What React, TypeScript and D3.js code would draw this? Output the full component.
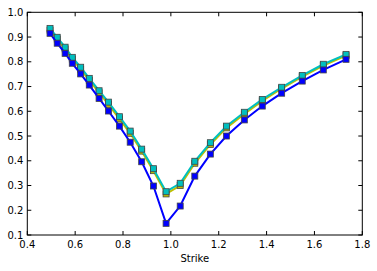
import * as d3 from "d3";

// страйки
const strikes = [0.495, 0.525, 0.558, 0.588, 0.623, 0.659, 0.7, 0.739, 0.785, 0.83, 0.878, 0.927, 0.98, 1.039, 1.1, 1.165, 1.232, 1.307, 1.382, 1.463, 1.549, 1.637, 1.732];

// три серии волатильности
const blueVals = [0.915, 0.875, 0.834, 0.794, 0.751, 0.706, 0.652, 0.601, 0.54, 0.475, 0.396, 0.298, 0.147, 0.217, 0.338, 0.427, 0.5, 0.565, 0.621, 0.673, 0.722, 0.767, 0.81];
const yellowVals = [0.928, 0.892, 0.852, 0.811, 0.77, 0.725, 0.675, 0.628, 0.569, 0.511, 0.439, 0.36, 0.266, 0.3, 0.39, 0.466, 0.533, 0.589, 0.642, 0.692, 0.74, 0.785, 0.825];
const cyanVals = [0.935, 0.899, 0.859, 0.818, 0.778, 0.733, 0.683, 0.637, 0.578, 0.52, 0.447, 0.368, 0.275, 0.309, 0.398, 0.473, 0.54, 0.596, 0.648, 0.697, 0.745, 0.79, 0.83];

const xTicks = [0.4, 0.6, 0.8, 1.0, 1.2, 1.4, 1.6, 1.8];
const yTicks = [0.1, 0.2, 0.3, 0.4, 0.5, 0.6, 0.7, 0.8, 0.9, 1.0];

const W = 377;
const H = 271;
const margin = { left: 27.3, right: 14.7, top: 12.3, bottom: 36 };

export default function App() {
  const x = d3.scaleLinear().domain([0.4, 1.8]).range([margin.left, W - margin.right]);
  const y = d3.scaleLinear().domain([0.1, 1.0]).range([H - margin.bottom, margin.top]);

  const line = d3
    .line<number>()
    .x((_, i) => x(strikes[i]))
    .y((d) => y(d));

  // порядок отрисовки: жёлтая, бирюзовая, синяя
  const series = [
    { vals: yellowVals, color: "#bfbf00" },
    { vals: cyanVals, color: "#00bfbf" },
    { vals: blueVals, color: "#0000ff" },
  ];

  const x0 = x.range()[0];
  const x1 = x.range()[1];
  const y0 = y.range()[0];
  const y1 = y.range()[1];
  const font = "DejaVu Sans, sans-serif";
  const ms = 6;

  return (
    <svg
      width={W}
      height={H}
      style={{ position: "absolute", left: 0, top: 0, background: "#fff" }}
      fontFamily={font}
    >
      <rect x={0} y={0} width={W} height={H} fill="#fff" />
      {series.map((s, si) => (
        <g key={si}>
          <path d={line(s.vals) || ""} fill="none" stroke={s.color} strokeWidth={2} />
          {s.vals.map((v, i) => (
            <rect
              key={i}
              x={x(strikes[i]) - ms / 2}
              y={y(v) - ms / 2}
              width={ms}
              height={ms}
              fill={s.color}
              stroke="#444"
              strokeWidth={0.8}
            />
          ))}
        </g>
      ))}
      {/* рамка */}
      <rect x={x0} y={y1} width={x1 - x0} height={y0 - y1} fill="none" stroke="#000" strokeWidth={1} />
      {/* деления по X */}
      {xTicks.map((t) => (
        <g key={"x" + t}>
          <line x1={x(t)} x2={x(t)} y1={y0} y2={y0 - 4} stroke="#000" />
          <line x1={x(t)} x2={x(t)} y1={y1} y2={y1 + 4} stroke="#000" />
          <text x={x(t)} y={y0 + 13} fontSize={10} textAnchor="middle">
            {t.toFixed(1)}
          </text>
        </g>
      ))}
      {/* деления по Y */}
      {yTicks.map((t) => (
        <g key={"y" + t}>
          <line x1={x0} x2={x0 + 4} y1={y(t)} y2={y(t)} stroke="#000" />
          <line x1={x1} x2={x1 - 4} y1={y(t)} y2={y(t)} stroke="#000" />
          <text x={x0 - 4} y={y(t) + 3.5} fontSize={10} textAnchor="end">
            {t.toFixed(1)}
          </text>
        </g>
      ))}
      <text x={(x0 + x1) / 2} y={y0 + 27} fontSize={10} textAnchor="middle">
        Strike
      </text>
    </svg>
  );
}
